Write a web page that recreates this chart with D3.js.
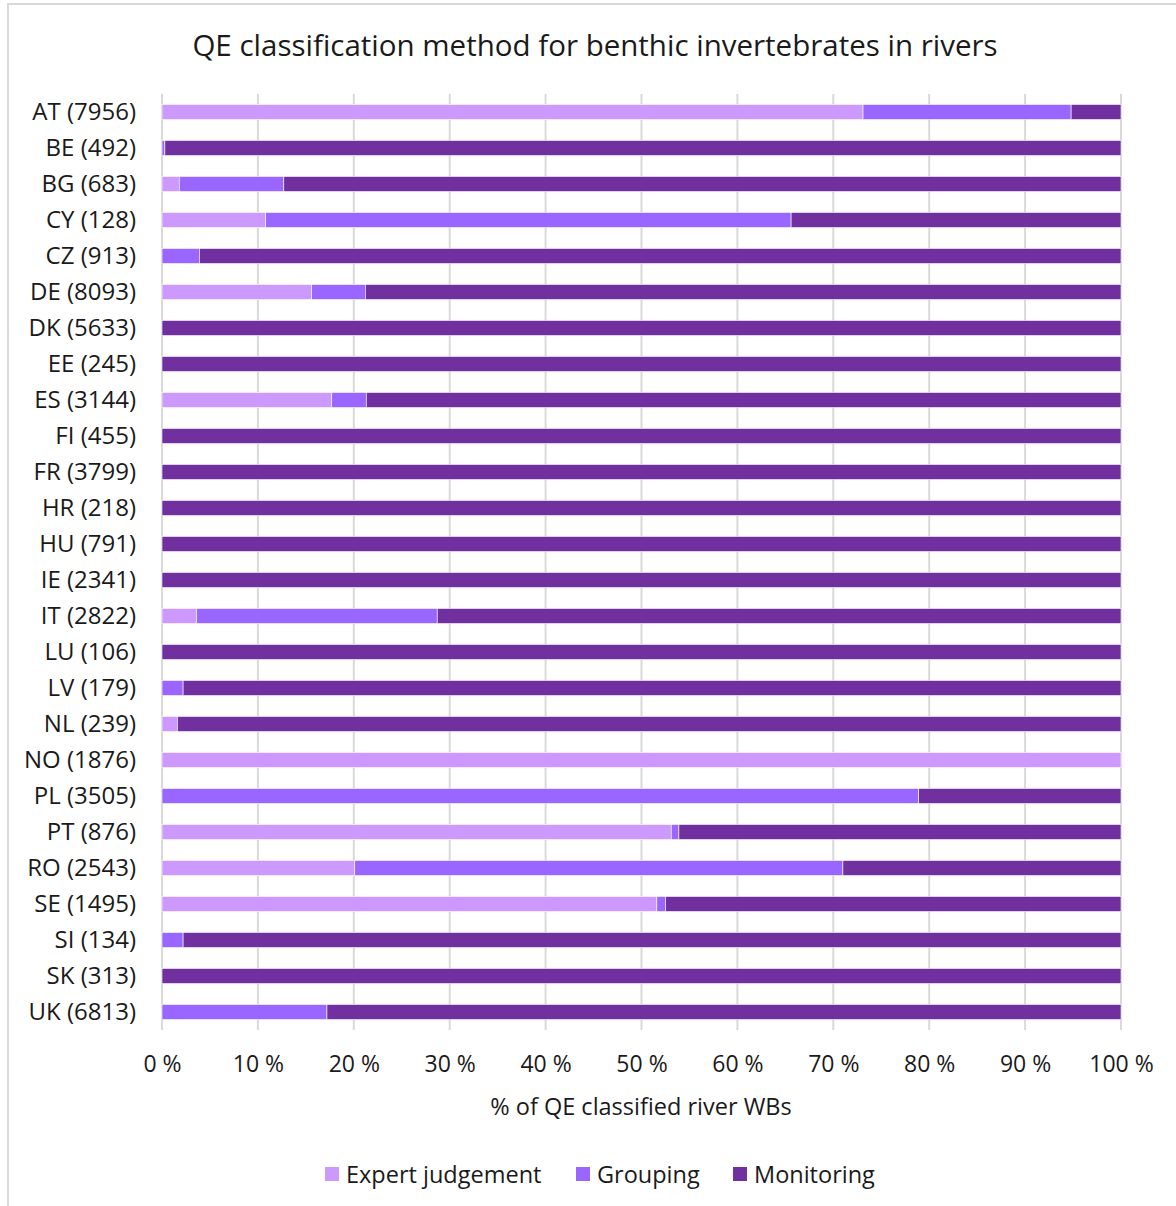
<!DOCTYPE html>
<html><head><meta charset="utf-8">
<script src="https://cdn.jsdelivr.net/npm/d3@7"></script>
<style>body{margin:0;background:#fff;} svg{display:block;} text{font-family:"Open Sans", Lato, sans-serif;fill:#1a1a1a;}</style>
</head><body>
<script>
const categories = ["AT (7956)","BE (492)","BG (683)","CY (128)","CZ (913)","DE (8093)","DK (5633)","EE (245)","ES (3144)","FI (455)","FR (3799)","HR (218)","HU (791)","IE (2341)","IT (2822)","LU (106)","LV (179)","NL (239)","NO (1876)","PL (3505)","PT (876)","RO (2543)","SE (1495)","SI (134)","SK (313)","UK (6813)"];
const expertJudgement = [73.1,0,1.8,10.8,0,15.6,0,0,17.7,0,0,0,0,0,3.6,0,0,1.6,100,0,53.1,20.1,51.6,0,0,0];
const grouping        = [21.7,0.3,10.9,54.8,3.9,5.6,0,0,3.6,0,0,0,0,0,25.1,0,2.2,0,0,78.9,0.8,50.9,0.9,2.2,0,17.2];
const seriesNames = ["Expert judgement","Grouping","Monitoring"];
const seriesColors = ["#CC99FF","#9966FF","#7030A0"];
const xTicks = [0,10,20,30,40,50,60,70,80,90,100];
const title = "QE classification method for benthic invertebrates in rivers";
const xTitle = "% of QE classified river WBs";

const monitoring = categories.map((c,i)=>Math.max(0, +(100 - expertJudgement[i] - grouping[i]).toFixed(2)));
const rows = categories.map((c,i)=>({cat:c, "Expert judgement":expertJudgement[i], "Grouping":grouping[i], "Monitoring":monitoring[i]}));

const W=1176,H=1206;
const svg=d3.select("body").append("svg").attr("width",W).attr("height",H);
svg.append("rect").attr("x",8).attr("y",4).attr("width",1300).attr("height",1300).attr("fill","none").attr("stroke","#d9d9d9").attr("stroke-width",2);

const x=d3.scaleLinear().domain([0,100]).range([162,1121]);
const y=d3.scaleBand().domain(categories).range([94,1030]).paddingInner(0.58).paddingOuter(0.29);

svg.append("text").attr("x",595).attr("y",56).attr("text-anchor","middle").style("font-size","29.5px").text(title);

// gridlines
svg.append("g").selectAll("line").data(xTicks).join("line")
  .attr("x1",d=>x(d)).attr("x2",d=>x(d)).attr("y1",94).attr("y2",1030)
  .attr("stroke","#d9d9d9").attr("stroke-width",2);

const stack=d3.stack().keys(seriesNames)(rows);
const color=d3.scaleOrdinal().domain(seriesNames).range(seriesColors);
svg.append("g").selectAll("g").data(stack).join("g").attr("fill",d=>color(d.key))
  .selectAll("rect").data(d=>d.filter(p=>p[1]-p[0]>0)).join("rect")
  .attr("x",d=>x(d[0])).attr("width",d=>x(d[1])-x(d[0]))
  .attr("y",d=>y(d.data.cat)).attr("height",y.bandwidth())
  .attr("stroke","#ffffff").attr("stroke-width",0.6);

// y axis labels
const yAxis=d3.axisLeft(y).tickSize(0).tickPadding(0);
const gy=svg.append("g").attr("transform","translate(136,0)").call(yAxis);
gy.select(".domain").remove();
gy.selectAll("text").style("font-size","24px").attr("fill","#1a1a1a").style("font-family","'Open Sans', sans-serif");

// x axis labels
const xAxis=d3.axisBottom(x).tickValues(xTicks).tickSize(0).tickPadding(0).tickFormat(d=>d+" %");
const gx=svg.append("g").attr("transform","translate(0,1056)").call(xAxis);
gx.select(".domain").remove();
gx.selectAll("text").style("font-size","23px").attr("fill","#1a1a1a").style("font-family","'Open Sans', sans-serif").attr("dy","0.71em");

svg.append("text").attr("x",641).attr("y",1115).attr("text-anchor","middle").style("font-size","23.5px").text(xTitle);

// legend
const legX=[325,576,733];
const leg=svg.append("g").selectAll("g").data(seriesNames).join("g").attr("transform",(d,i)=>`translate(${legX[i]},1167)`);
leg.append("rect").attr("width",14).attr("height",14).attr("fill",d=>color(d));
leg.append("text").attr("x",21).attr("y",16).style("font-size","23.5px").text(d=>d);
</script>
</body></html>
